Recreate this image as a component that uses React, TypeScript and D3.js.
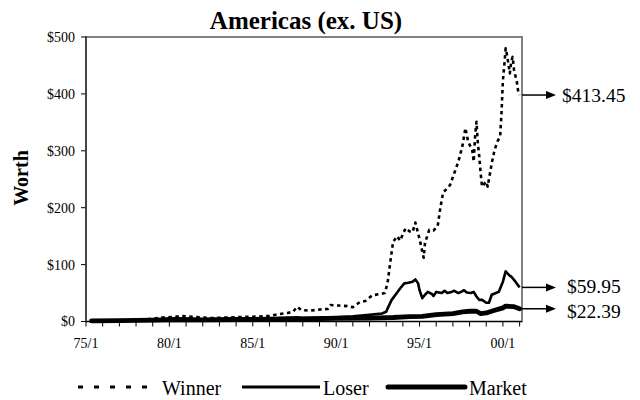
import React from "react";
import * as d3 from "d3";

const TITLE = "Americas (ex. US)";
const Y_LABEL = "Worth";
const Y_TICKS = [0, 100, 200, 300, 400, 500];
const X_LABEL_YEARS = [1975, 1980, 1985, 1990, 1995, 2000];

const winnerDates = ["1975-05","1976-07","1977-07","1978-07","1979-01","1979-08","1980-04","1980-10","1981-07","1982-07","1983-07","1984-07","1985-07","1986-01","1986-08","1987-02","1987-06","1987-09","1987-12","1988-06","1989-01","1989-07","1989-09","1990-03","1990-09","1991-01","1991-06","1991-10","1992-03","1992-08","1992-12","1993-02","1993-04","1993-06","1993-09","1993-11","1994-03","1994-06","1994-08","1994-10","1995-01","1995-04","1995-05","1995-08","1995-11","1996-02","1996-04","1996-06","1996-09","1996-11","1997-02","1997-05","1997-08","1997-10","1997-12","1998-03","1998-04","1998-05","1998-06","1998-07","1998-08","1998-09","1998-10","1999-01","1999-02","1999-05","1999-07","1999-09","1999-11","1999-12","2000-01","2000-02","2000-03","2000-04","2000-06","2000-07","2000-08","2000-09","2000-11","2000-12","2001-01"];
const winnerValues = [1,1.5,2,3,5,7,8,9.5,8,6,7,8,9,10,13,15,17,26,20,19,21,22,29,28,27,25,34,36,46,48,50,68,105,140,150,142,164,158,157,174,145,112,138,161,160,167,200,227,234,240,261,281,310,340,316,301,281,325,351,313,290,260,237,246,237,278,301,316,325,366,424,451,480,468,436,457,465,442,421,404,398];

const loserDates = ["1975-05","1977-01","1979-01","1980-06","1982-01","1984-01","1986-01","1987-09","1988-01","1990-01","1991-01","1992-01","1992-06","1992-10","1993-01","1993-02","1993-05","1993-08","1993-11","1994-02","1994-05","1994-08","1994-10","1994-12","1995-01","1995-03","1995-05","1995-07","1995-10","1995-11","1996-01","1996-05","1996-07","1996-09","1996-12","1997-02","1997-05","1997-07","1997-09","1997-11","1998-02","1998-04","1998-06","1998-08","1998-10","1999-01","1999-03","1999-05","1999-08","1999-10","2000-01","2000-03","2000-06","2000-07","2000-10","2001-01"];
const loserValues = [1,1.5,3,5,4,5,5,7,6,8,9,12,13,14,17,23,38,48,58,67,68,70,74,67,55,41,47,52,48,45,52,50,54,50,52,54,50,52,55,51,50,52,44,38,38,33,33,47,50,52,70,88,80,79,70,59.95];

const marketDates = ["1975-05","1977-01","1979-01","1980-06","1982-01","1984-01","1986-01","1987-09","1988-01","1990-01","1992-01","1993-06","1994-06","1995-03","1996-01","1997-01","1997-08","1998-01","1998-06","1998-09","1999-01","1999-06","2000-01","2000-03","2000-09","2001-01"];
const marketValues = [1,1.5,2.5,3.5,3,3.5,4,5,4.5,5.5,6,7,8.5,9,12,14,17,18,18,14,15,19,24,27,26,22.39];

const SERIES_NAMES = ["Winner", "Loser", "Market"];
const END_LABELS = ["$413.45", "$59.95", "$22.39"];

const parse = d3.timeParse("%Y-%m");

export default function App() {
  const W = 640, H = 400;
  const left = 86, right = 522, top = 37, bottom = 321.5;
  const x = d3.scaleTime().domain([new Date(1975, 0, 1), new Date(2001, 1, 22)]).range([left, right]);
  const y = d3.scaleLinear().domain([0, 500]).range([bottom, top]);

  const mk = (dates: string[], vals: number[]) => dates.map((d, i) => ({ d: parse(d) as Date, v: vals[i] }));
  const series = [mk(winnerDates, winnerValues), mk(loserDates, loserValues), mk(marketDates, marketValues)];
  const line = d3.line<{ d: Date; v: number }>().x(p => x(p.d)).y(p => y(p.v));

  const styles = [
    { w: 2.6, dash: "3.5,3.5", cap: "butt" },
    { w: 2.6, dash: "", cap: "butt" },
    { w: 4.8, dash: "", cap: "round" },
  ];

  const yearTicks = d3.range(1975, 2002).map(yr => new Date(yr, 0, 1));
  const labelX = [562, 567, 567];
  const labelShift = [0, -1.5, 2];
  const font = "'Liberation Serif', 'Times New Roman', serif";

  const legend = [
    { x1: 78, x2: 148, tx: 162, dash: "5,11", w: 3, cap: "butt" },
    { x1: 242, x2: 320, tx: 323, dash: "", w: 3, cap: "butt" },
    { x1: 388, x2: 465, tx: 469, dash: "", w: 5, cap: "round" },
  ];

  return (
    <svg width={W} height={H} style={{ position: "absolute", left: 0, top: 0 }} fontFamily={font}>
      <rect x={0} y={0} width={W} height={H} fill="#fff" />
      <text x={306} y={29} textAnchor="middle" fontSize={25} fontWeight="bold">{TITLE}</text>
      <text transform={`translate(28,178) rotate(-90)`} textAnchor="middle" fontSize={20} fontWeight="bold">{Y_LABEL}</text>

      <rect x={left} y={top} width={right - left} height={bottom - top} fill="none" stroke="#808080" strokeWidth={2} />

      {Y_TICKS.map(t => (
        <g key={t}>
          <line x1={left - 5} x2={left} y1={y(t)} y2={y(t)} stroke="#000" strokeWidth={1} />
          <text x={75} y={y(t)} dy="0.35em" textAnchor="end" fontSize={14}>{`$${t}`}</text>
        </g>
      ))}
      {yearTicks.map((t, i) => (
        <line key={i} x1={x(t)} x2={x(t)} y1={bottom} y2={bottom + 5} stroke="#000" strokeWidth={1} />
      ))}
      {X_LABEL_YEARS.map(yr => (
        <text key={yr} x={x(new Date(yr, 0, 1))} y={348} textAnchor="middle" fontSize={14}>
          {`${String(yr % 100).padStart(2, "0")}/1`}
        </text>
      ))}

      {series.map((s, i) => (
        <path key={i} d={line(s) || ""} fill="none" stroke="#000" strokeWidth={styles[i].w}
          strokeDasharray={styles[i].dash || undefined} strokeLinecap={styles[i].cap as any} strokeLinejoin="round" />
      ))}

      <line x1={left} x2={left} y1={top - 1} y2={bottom} stroke="#333" strokeWidth={1.5} />
      <line x1={left} x2={right} y1={bottom} y2={bottom} stroke="#000" strokeWidth={1.2} />

      {series.map((s, i) => {
        const yy = y(s[s.length - 1].v);
        return (
          <g key={i}>
            <line x1={right} x2={548} y1={yy} y2={yy} stroke="#000" strokeWidth={1.5} />
            <path d={`M${546},${yy - 4}L${556},${yy}L${546},${yy + 4}Z`} fill="#000" />
            <text x={labelX[i]} y={yy + labelShift[i]} dy="0.36em" fontSize={19.5}>{END_LABELS[i]}</text>
          </g>
        );
      })}

      {legend.map((l, i) => (
        <g key={i}>
          <line x1={l.x1} x2={l.x2} y1={387} y2={387} stroke="#000" strokeWidth={l.w}
            strokeDasharray={l.dash || undefined} strokeLinecap={l.cap as any} />
          <text x={l.tx} y={395} fontSize={20}>{SERIES_NAMES[i]}</text>
        </g>
      ))}
    </svg>
  );
}
